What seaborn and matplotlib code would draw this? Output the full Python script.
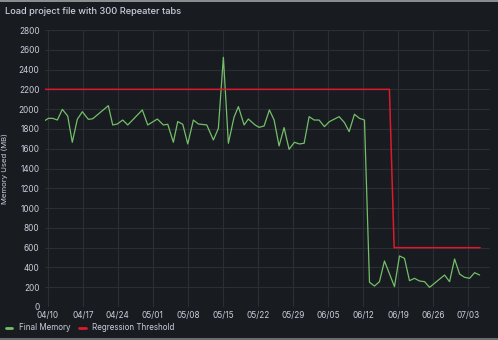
import matplotlib
matplotlib.use("Agg")
import matplotlib.pyplot as plt
from matplotlib.lines import Line2D
from matplotlib.patches import Rectangle
import numpy as np
import pandas as pd
import seaborn as sns

# Days after 2023-04-10 at which each benchmark run finished
run_days = [-0.54, 0.12, 1.00, 1.92, 2.92, 3.99, 4.91, 5.91, 6.91, 8.11, 8.99,
            12.10, 12.98, 13.90, 14.98, 15.98, 18.89, 19.97, 21.89, 23.09, 23.97,
            25.08, 25.96, 26.96, 27.96, 29.08, 30.08, 31.76, 33.07, 34.07, 35.07,
            36.07, 37.21, 38.07, 39.21, 40.06, 41.40, 42.20, 43.20, 44.26, 45.20,
            46.19, 47.19, 48.19, 49.25, 50.25, 51.19, 52.19, 53.19, 54.18, 55.24,
            56.24, 58.18, 59.24, 60.18, 61.24, 62.24, 63.24, 64.24, 65.24, 66.23,
            67.23, 69.23, 70.23, 71.23, 72.23, 73.23, 74.23, 75.23, 76.23, 77.23,
            78.23, 79.23, 80.23, 81.23, 82.23, 83.23, 84.23, 85.23, 86.23]
final_memory = [1885, 1907, 1907, 1890, 1998, 1931, 1665, 1897, 1974, 1897, 1903,
                2035, 1840, 1850, 1890, 1840, 1992, 1840, 1900, 1840, 1847,
                1665, 1874, 1847, 1648, 1890, 1850, 1840, 1688, 1806, 2524,
                1655, 1921, 2025, 1840, 1900, 1840, 1816, 1830, 1992, 1890,
                1628, 1813, 1594, 1665, 1648, 1655, 1924, 1890, 1890, 1823,
                1874, 1924, 1864, 1773, 1948, 1907, 1890, 250, 212, 256,
                465, 206, 516, 492, 266, 290, 263, 256, 199, 240,
                282, 323, 256, 485, 333, 300, 290, 347, 323]

threshold_days = [-0.54, 68.22, 69.16, 86.33]
threshold_values = [2200, 2200, 600, 600]

tick_labels = ["04/10", "04/17", "04/24", "05/01", "05/08", "05/15", "05/22",
               "05/29", "06/05", "06/12", "06/19", "06/26", "07/03"]

start = pd.Timestamp("2023-04-10")
GREEN = "#73BF69"
RED = "#DC1A2E"
BG = "#181b1f"
TEXT = "#ccccdc"
GRID = "#2b2e33"

df = pd.concat([
    pd.DataFrame({"time": start + pd.to_timedelta(run_days, unit="D"),
                  "mb": final_memory, "series": "Final Memory"}),
    pd.DataFrame({"time": start + pd.to_timedelta(threshold_days, unit="D"),
                  "mb": threshold_values, "series": "Regression Threshold"}),
], ignore_index=True)

sns.set_theme(style="dark")
plt.rcParams["font.family"] = ["Inter", "DejaVu Sans"]

fig = plt.figure(figsize=(4.98, 3.40), dpi=100, facecolor=BG)
ax = fig.add_axes([45 / 498, 33 / 340, 445 / 498, 277 / 340], facecolor=BG)

sns.lineplot(data=df, x="time", y="mb", hue="series",
             palette={"Final Memory": GREEN, "Regression Threshold": RED},
             linewidth=0.9, ax=ax, legend=False, estimator=None)
ax.lines[1].set_linewidth(1.1)

ax.set_ylim(0, 2800)
ax.set_yticks(np.arange(0, 2801, 200))
ax.set_xlim(start + pd.Timedelta(days=-0.54), start + pd.Timedelta(days=88.3))
ticks = [start + pd.Timedelta(days=7 * i) for i in range(len(tick_labels))]
ax.set_xticks(ticks)
ax.set_xticklabels(tick_labels)

ax.grid(True, color=GRID, linewidth=0.8)
ax.set_axisbelow(True)
for s in ax.spines.values():
    s.set_visible(False)
ax.tick_params(axis="both", colors=TEXT, labelsize=5.9, length=0, pad=4)
ax.tick_params(axis="x", pad=3)
ax.set_xlabel("")
ax.set_ylabel("Memory Used (MB)", color=TEXT, fontsize=5.6, labelpad=6)
ax.yaxis.set_label_coords(-0.083, 0.5)

fig.text(5 / 498, 1 - 11 / 340, "Load project file with 300 Repeater tabs",
         color=TEXT, fontsize=6.7, fontweight="medium", va="center", ha="left")

handles = [Line2D([0], [0], color=GREEN, lw=2),
           Line2D([0], [0], color=RED, lw=2)]
fig.legend(handles, ["Final Memory", "Regression Threshold"],
           loc="center left", bbox_to_anchor=(6 / 498, 12 / 340), ncol=2,
           frameon=False, fontsize=5.8, labelcolor=TEXT, handlelength=0.8,
           handletextpad=0.8, columnspacing=1.1, borderpad=0, borderaxespad=0)

# thin panel borders along the top and bottom edges
fig.patches.append(Rectangle((0, 1 - 2 / 340), 1, 2 / 340, transform=fig.transFigure,
                             facecolor="#8a8c90", edgecolor="none"))
fig.patches.append(Rectangle((0, 0), 1, 2 / 340, transform=fig.transFigure,
                             facecolor="#6a6c70", edgecolor="none"))

fig.savefig("out.png", dpi=100, facecolor=BG)
